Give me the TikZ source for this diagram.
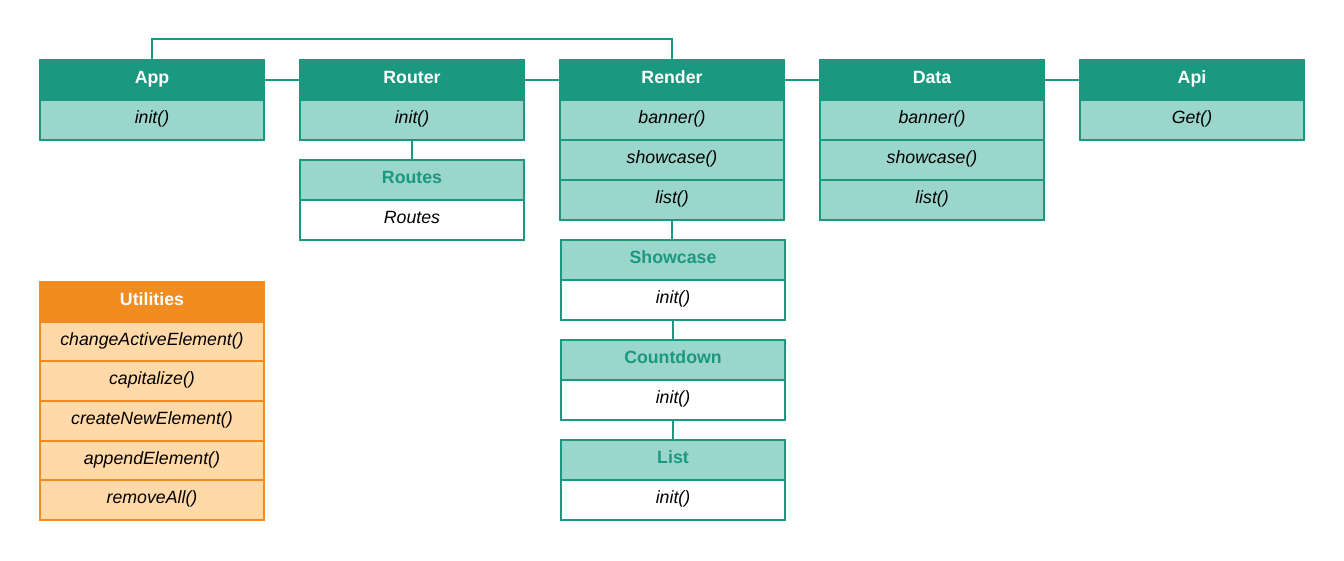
\documentclass[tikz,border=0pt]{standalone}
\usepackage{fontspec}
\setmainfont{Liberation Sans}
\definecolor{umlDark}{HTML}{1B9980}
\definecolor{umlLight}{HTML}{9AD6CB}
\definecolor{umlOrange}{HTML}{F08C20}
\definecolor{umlPale}{HTML}{FFD9A8}

\begin{document}
\begin{tikzpicture}[x=0.75pt, y=-0.75pt,
  box/.style={draw=umlDark, line width=1.6pt, minimum width=168pt, minimum height=30pt, inner sep=0pt, text height=9.8pt, text depth=4.4pt},
  head/.style={box, fill=umlDark, text=white, font=\fontsize{13.3}{15}\selectfont\bfseries},
  subhead/.style={box, fill=umlLight, text=umlDark, font=\fontsize{13.3}{15}\selectfont\bfseries},
  row/.style={box, fill=umlLight, font=\fontsize{13.3}{15}\selectfont\itshape},
  plainrow/.style={box, fill=white, font=\fontsize{13.3}{15}\selectfont\itshape},
  uhead/.style={head, draw=umlOrange, fill=umlOrange},
  urow/.style={row, draw=umlOrange, fill=umlPale},
  link/.style={draw=umlDark, line width=1.6pt}]

\useasboundingbox (0,0) rectangle (1344,560);

% top row of classes
\node[head] (app) at (152,80) {App};
\node[row] (appInit) at (152,120) {init()};
\node[head] (router) at (412,80) {Router};
\node[row] (routerInit) at (412,120) {init()};
\node[head] (render) at (672,80) {Render};
\node[row] (renderBanner) at (672,120) {banner()};
\node[row] (renderShowcase) at (672,160) {showcase()};
\node[row] (renderList) at (672,200) {list()};
\node[head] (data) at (932,80) {Data};
\node[row] (dataBanner) at (932,120) {banner()};
\node[row] (dataShowcase) at (932,160) {showcase()};
\node[row] (dataList) at (932,200) {list()};
\node[head] (api) at (1192,80) {Api};
\node[row] (apiGet) at (1192,120) {Get()};

% sub modules
\node[subhead] (routes) at (412,180) {Routes};
\node[plainrow] (routesRow) at (412,220) {Routes};
\node[subhead] (showcase) at (673,260) {Showcase};
\node[plainrow] (showcaseInit) at (673,300) {init()};
\node[subhead] (countdown) at (673,360) {Countdown};
\node[plainrow] (countdownInit) at (673,400) {init()};
\node[subhead] (list) at (673,460) {List};
\node[plainrow] (listInit) at (673,500) {init()};

% utilities
\node[uhead] (utils) at (152,302) {Utilities};
\foreach \name [count=\i] in {changeActiveElement(), capitalize(), createNewElement(), appendElement(), removeAll()}
  \node[urow, minimum height=29.7pt] (util\i) at (152,302+39.6*\i) {\name};

% connectors
\draw[link] (app.north) -- ++(0,-20) -| (render.north);
\draw[link] (app.east) -- (router.west);
\draw[link] (router.east) -- (render.west);
\draw[link] (render.east) -- (data.west);
\draw[link] (data.east) -- (api.west);
\draw[link] (routerInit.south) -- (routes.north);
\draw[link] (renderList.south) -- (renderList.south |- showcase.north);
\draw[link] (showcaseInit.south) -- (countdown.north);
\draw[link] (countdownInit.south) -- (list.north);
\end{tikzpicture}
\end{document}
